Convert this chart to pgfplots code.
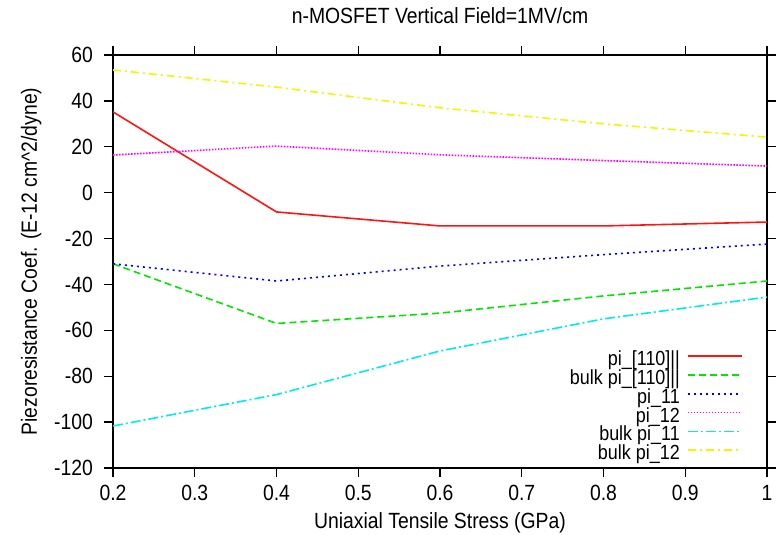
\documentclass[border=0pt]{standalone}
\usepackage{pgfplots}
\pgfplotsset{compat=1.18}
\usepackage{fontspec}
\setmainfont{Liberation Sans}[FakeStretch=0.88]
\newcommand\sz{\fontsize{11}{11}\selectfont}
\newcommand\lsz{\fontsize{10.2}{10}\selectfont}
\definecolor{gpred}{RGB}{255,20,20}
\definecolor{gpgreen}{RGB}{0,230,0}
\definecolor{gpblue}{RGB}{0,0,255}
\definecolor{gpmag}{RGB}{255,0,255}
\definecolor{gpcyan}{RGB}{0,235,235}
\definecolor{gpyellow}{RGB}{245,245,0}
\begin{document}
\begin{tikzpicture}
\begin{axis}[
    name=ax,
    scale only axis,
    width=327pt,
    height=206.5pt,
    xmin=0.2, xmax=1,
    ymin=-120, ymax=60,
    xtick={0.2,0.3,...,1.0},
    xticklabels={0.2,0.3,0.4,0.5,0.6,0.7,0.8,0.9,1},
    ytick={-120,-100,...,60},
    tick align=outside,
    xtick pos=both, ytick pos=both,
    tickwidth=4.5pt,
    tick style={black, line width=0.7pt},
    axis line style={line width=0.6pt},
    /pgf/number format/assume math mode=true,
    tick label style={font=\sz},
    xticklabel style={yshift=-0.5pt},
    yticklabel style={xshift=-2pt},
    title={n-MOSFET Vertical Field=1MV/cm},
    title style={font=\sz, yshift=6pt},
    xlabel={Uniaxial Tensile Stress (GPa)},
    ylabel={Piezoresistance Coef. (E-12 cm\textasciicircum 2/dyne)},
    label style={font=\sz},
    xlabel style={yshift=1pt},
    ylabel style={yshift=-0.5pt},
    legend plot pos=right,
    legend cell align=right,
    legend style={draw=none, fill=none, font=\lsz,
        at={(axis description cs:0.963,0.008)}, anchor=south east,
        row sep=0.3pt, column sep=3pt, inner sep=0pt,
        nodes={inner sep=0.5pt, text height=6.3pt, text depth=1.8pt}},
    legend image code/.code={\draw[#1] (0pt,2.5pt) -- (27pt,2.5pt);},
    every axis plot/.append style={line width=0.8pt},
]
\addplot[gpred, solid] coordinates {
    (0.2,35.2) (0.4,-8.4) (0.6,-14.5) (0.8,-14.5) (1.0,-12.8)
};
\addlegendentry{pi\_[110]||}
\addplot[gpgreen, dash pattern=on 3.5pt off 2pt] coordinates {
    (0.2,-31) (0.4,-57) (0.6,-52.5) (0.8,-45) (1.0,-38.5)
};
\addlegendentry{bulk pi\_[110]||}
\addplot[gpblue, dash pattern=on 1pt off 2pt] coordinates {
    (0.2,-31) (0.4,-38.5) (0.6,-32) (0.8,-27) (1.0,-22.4)
};
\addlegendentry{pi\_11}
\addplot[gpmag, dash pattern=on 0.8pt off 0.7pt] coordinates {
    (0.2,16.4) (0.4,20.3) (0.6,16.5) (0.8,14) (1.0,11.6)
};
\addlegendentry{pi\_12}
\addplot[gpcyan, dash pattern=on 5pt off 1.5pt on 1pt off 1.5pt] coordinates {
    (0.2,-101.7) (0.4,-88) (0.6,-69) (0.8,-55) (1.0,-45.5)
};
\addlegendentry{bulk pi\_11}
\addplot[gpyellow, dash pattern=on 4pt off 2pt on 1pt off 2pt] coordinates {
    (0.2,53.5) (0.4,46) (0.6,37) (0.8,30) (1.0,24.2)
};
\addlegendentry{bulk pi\_12}
\end{axis}
\pgfresetboundingbox
\path ([shift={(-56.5pt,-33pt)}]ax.south west) rectangle ([shift={(7pt,27.5pt)}]ax.north east);
\end{tikzpicture}
\end{document}
